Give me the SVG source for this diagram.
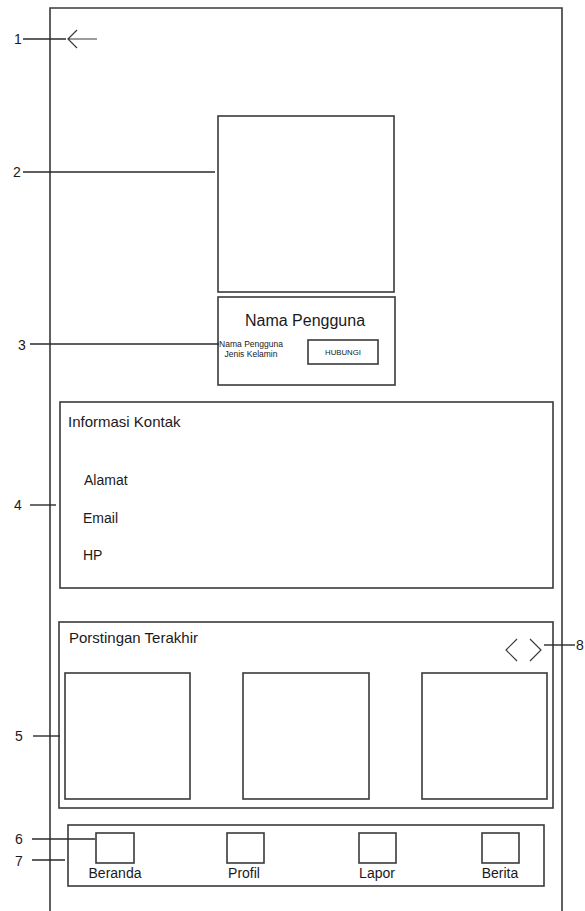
<svg xmlns="http://www.w3.org/2000/svg" width="585" height="911" viewBox="0 0 585 911">
  <style>
    .box { fill: none; stroke: #3a3a3a; stroke-width: 1.6; }
    .thin { fill: none; stroke: #3a3a3a; stroke-width: 1.2; }
    .lead { fill: none; stroke: #2a2a2a; stroke-width: 1.4; }
    text { font-family: "Liberation Sans", Arial, sans-serif; fill: #1a1a1a; }
    .num { font-size: 14px; }
    .h { font-size: 15px; }
    .t { font-size: 14px; }
    .mid { text-anchor: middle; }
  </style>

  <rect width="585" height="911" fill="#ffffff"/>

  <!-- phone frame -->
  <g id="frame">
    <path class="box" d="M50,911 V8 H562 V911"/>
  </g>

  <!-- back arrow -->
  <g id="back-arrow">
    <path class="thin" d="M68,39 H97 M77,30 L68,39 L77,48"/>
  </g>

  <!-- profile picture -->
  <g id="profile-picture">
    <rect class="box" x="218" y="116" width="176" height="176"/>
  </g>

  <!-- user card -->
  <g id="user-card">
    <rect class="box" x="218" y="297" width="177" height="88"/>
    <text class="mid" x="305" y="326" font-size="16">Nama Pengguna</text>
    <text class="mid" x="251" y="347" font-size="8.5">Nama Pengguna</text>
    <text class="mid" x="251" y="357" font-size="8.5">Jenis Kelamin</text>
    <rect class="box" x="308" y="340" width="70" height="24"/>
    <text class="mid" x="343" y="355" font-size="7.8">HUBUNGI</text>
  </g>

  <!-- contact information -->
  <g id="contact-info">
    <rect class="box" x="60" y="402" width="493" height="186"/>
    <text class="h" x="68" y="427">Informasi Kontak</text>
    <text class="t" x="84" y="485">Alamat</text>
    <text class="t" x="83" y="523">Email</text>
    <text class="t" x="83" y="560">HP</text>
  </g>

  <!-- latest posts -->
  <g id="latest-posts">
    <rect class="box" x="59" y="622" width="494" height="186"/>
    <text class="h" x="69" y="643">Porstingan Terakhir</text>
    <rect class="box" x="65" y="673" width="125" height="126"/>
    <rect class="box" x="243" y="673" width="126" height="126"/>
    <rect class="box" x="422" y="673" width="125" height="126"/>
  </g>

  <!-- post pager -->
  <g id="post-pager">
    <path class="thin" d="M517,639 L506,650 L517,661 M530,639 L541,650 L530,661"/>
  </g>

  <!-- bottom navigation -->
  <g id="bottom-nav">
    <rect class="box" x="68" y="825" width="476" height="61"/>
    <rect class="box" x="96" y="833" width="38" height="30"/>
    <rect class="box" x="227" y="833" width="37" height="30"/>
    <rect class="box" x="359" y="833" width="37" height="30"/>
    <rect class="box" x="482" y="833" width="37" height="30"/>
    <text class="t mid" x="115" y="878">Beranda</text>
    <text class="t mid" x="244" y="878">Profil</text>
    <text class="t mid" x="377" y="878">Lapor</text>
    <text class="t mid" x="500" y="878">Berita</text>
  </g>

  <!-- callout numbers -->
  <g id="label-1"><text class="num" x="14" y="44">1</text></g>
  <g id="label-2"><text class="num" x="13" y="177">2</text></g>
  <g id="label-3"><text class="num" x="18" y="350">3</text></g>
  <g id="label-4"><text class="num" x="14" y="510">4</text></g>
  <g id="label-5"><text class="num" x="15" y="741">5</text></g>
  <g id="label-6"><text class="num" x="15" y="844">6</text></g>
  <g id="label-7"><text class="num" x="15" y="866">7</text></g>
  <g id="label-8"><text class="num" x="576" y="650">8</text></g>

  <!-- callout leader lines -->
  <g id="connectors">
    <path class="lead" d="M23,39 H66"/>
    <path class="lead" d="M23,172 H215"/>
    <path class="lead" d="M30,344 H219"/>
    <path class="lead" d="M30,505 H56"/>
    <path class="lead" d="M33,736 H60"/>
    <path class="lead" d="M32,839 H95"/>
    <path class="lead" d="M32,860 H65"/>
    <path class="lead" d="M544,645 H575"/>
  </g>
</svg>
